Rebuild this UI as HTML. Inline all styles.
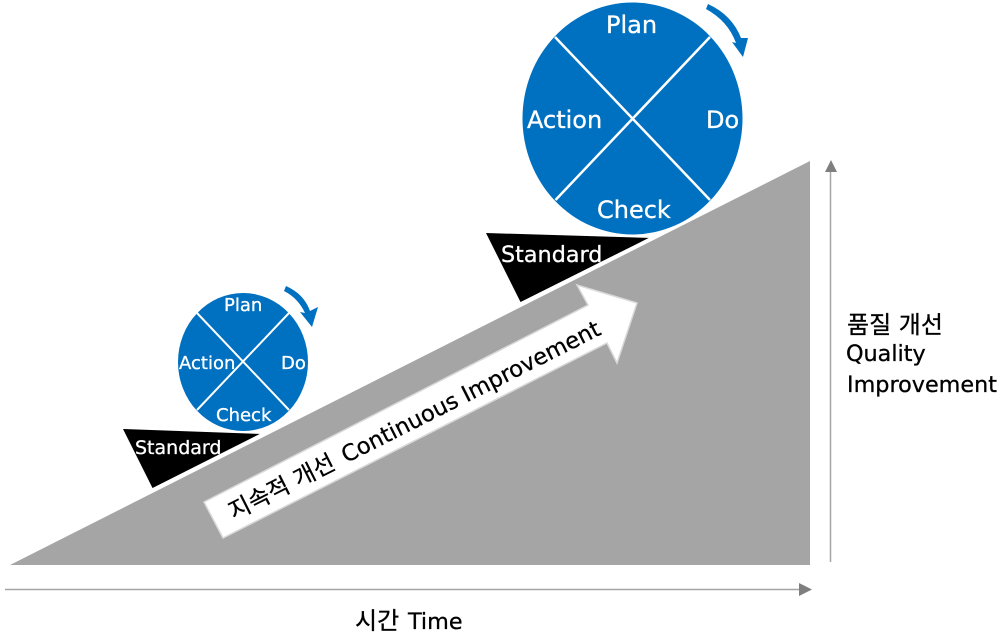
<!DOCTYPE html>
<html><head><meta charset="utf-8"><style>
html,body{margin:0;padding:0;background:#fff}
svg{display:block}
text{font-family:"DejaVu Sans","Noto Sans CJK KR",sans-serif;stroke-width:.3px}
.w{fill:#fff;stroke:#fff}
.k{fill:#000;stroke:#000}
</style></head><body>
<svg width="1002" height="640" viewBox="0 0 1002 640" xmlns="http://www.w3.org/2000/svg">
<polygon points="123,429 262,434 153,489" fill="#000"/>
<polygon points="486,233 652,238 521,303" fill="#000"/>
<polygon points="10,565 810,565 810,161" fill="#a5a5a5"/>
<line x1="150" y1="491" x2="264" y2="433.500" stroke="#fff" stroke-width="3"/>
<line x1="518" y1="305" x2="654" y2="237" stroke="#fff" stroke-width="3"/>
<polygon points="204,502 588,305 577,285 637,303 617,363 607,343 223,538" fill="#fff" stroke="#d9d9d9" stroke-width="1.500"/>
<ellipse cx="632.500" cy="118.500" rx="110" ry="116" fill="#0070c0"/>
<line x1="555" y1="37" x2="710" y2="200" stroke="#fff" stroke-width="2.500"/>
<line x1="710" y1="37" x2="555.500" y2="200" stroke="#fff" stroke-width="2.500"/>
<ellipse cx="243" cy="362" rx="65" ry="69" fill="#0070c0"/>
<line x1="197" y1="313" x2="289" y2="410" stroke="#fff" stroke-width="2"/>
<line x1="289" y1="313" x2="197" y2="410" stroke="#fff" stroke-width="2"/>
<path d="M708,4 Q732,15 741,38 L748,38 L743,57 L732,42 L736,43 Q728,21 706,9 Z" fill="#0070c0"/>
<path d="M286,286 Q304,294 310,311 L318,307 L312,327 L300,312 L305,313 Q298,298 284,291 Z" fill="#0070c0"/>
<text class="w" x="606" y="33" font-size="24">Plan</text>
<text class="w" x="527" y="128" font-size="24">Action</text>
<text class="w" x="706" y="128" font-size="24">Do</text>
<text class="w" x="597" y="218" font-size="24">Check</text>
<text class="w" x="501" y="262" font-size="22.300">Standard</text>
<text class="w" x="224" y="311" font-size="18">Plan</text>
<text class="w" x="179" y="369" font-size="18">Action</text>
<text class="w" x="281" y="369" font-size="18">Do</text>
<text class="w" x="216" y="421" font-size="18">Check</text>
<text class="w" x="135" y="454" font-size="19">Standard</text>
<g transform="translate(232,521) rotate(-26.800)">
<text class="k" x="2" y="0" font-size="23.500">지속적 개선</text>
<text class="k" x="128" y="0" font-size="22.600">Continuous Improvement</text>
</g>
<line x1="830.500" y1="562" x2="830.500" y2="170" stroke="#a5a5a5" stroke-width="1.500"/>
<polygon points="825,172 837,172 831,160" fill="#7f7f7f"/>
<line x1="5" y1="589.500" x2="800" y2="589.500" stroke="#a5a5a5" stroke-width="1.500"/>
<polygon points="799,583 812,589.500 799,596" fill="#7f7f7f"/>
<text class="k" x="847" y="333" font-size="24">품질 개선</text>
<text class="k" x="846" y="361" font-size="22.300">Quality</text>
<text class="k" x="847" y="392" font-size="22.300">Improvement</text>
<text class="k" x="355" y="629" font-size="24">시간</text>
<text class="k" x="408" y="629" font-size="22.300">Time</text>
</svg>
</body></html>
